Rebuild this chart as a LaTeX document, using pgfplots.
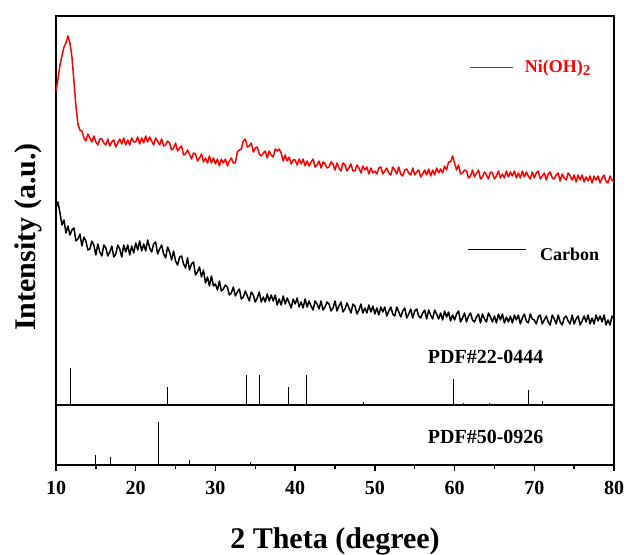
\documentclass[border=0pt]{standalone}
\usepackage{fontspec}
\setmainfont{Liberation Serif}
\usepackage{pgfplots}
\pgfplotsset{compat=1.18}
\begin{document}
\begin{tikzpicture}
\useasboundingbox (-56pt,-89pt) rectangle (572pt,465pt);
% ---------- bottom panel: PDF#50-0926 ----------
\begin{axis}[name=bot, at={(0,0)}, anchor=south west,
  scale only axis, width=558pt, height=60pt,
  xmin=10, xmax=80, ymin=0, ymax=60,
  ytick=\empty, xtick={10,20,...,80}, minor x tick num=1,
  tick align=outside, xtick pos=bottom,
  major tick length=6pt, minor tick length=4pt,
  every tick/.style={black, line width=1.3pt},
  axis line style={line width=2pt},
  /pgf/number format/assume math mode=true,
  tick label style={font=\fontsize{20}{20}\selectfont\bfseries},
  xticklabel style={yshift=-7pt},
  xlabel={2 Theta (degree)},
  xlabel style={at={(axis description cs:0.5,0)}, anchor=base, yshift=-83pt,
    font=\fontsize{30}{30}\selectfont\bfseries},
  clip=false]
\addplot[ycomb, black, line width=0.7pt, no marks] coordinates {
(14.98,9.7) (16.82,7.8) (22.9,43) (26.7,4.9) (29.5,1.0) (34.4,2.9)};
\node[font=\fontsize{20}{20}\selectfont\bfseries, anchor=center] at (axis cs:63.9,28) {PDF\#50-0926};
\end{axis}
% ---------- top panel ----------
\begin{axis}[name=main, at={(0,60pt)}, anchor=south west,
  scale only axis, width=558pt, height=389pt,
  xmin=10, xmax=80, ymin=0, ymax=389,
  xtick=\empty, ytick=\empty,
  axis line style={line width=2pt},
  ylabel={Intensity (a.u.)},
  ylabel style={at={(axis description cs:-0.0502,0.432)}, anchor=center,
    font=\fontsize{30}{30}\selectfont\bfseries},
  clip=false]
\addplot[red, line width=1.5pt, no marks, line join=round] table {
x y
10.00 314
10.25 326
10.50 340
10.75 349
11.00 358
11.25 362
11.50 369
11.75 362
12.00 348
12.25 324
12.50 299
12.75 281
13.00 275
13.25 274
13.50 267
13.75 264
14.00 271
14.25 267
14.50 263
14.75 269
15.00 263
15.25 260
15.50 266
15.75 266
16.00 262
16.25 260
16.50 266
16.75 259
17.00 263
17.25 265
17.50 258
17.75 262
18.00 266
18.25 261
18.50 267
18.75 260
19.00 265
19.25 260
19.50 267
19.75 263
20.00 263
20.25 268
20.50 261
20.75 267
21.00 262
21.25 269
21.50 263
21.75 268
22.00 264
22.25 260
22.50 267
22.75 264
23.00 260
23.25 266
23.50 259
23.75 260
24.00 264
24.25 262
24.50 255
24.75 257
25.00 262
25.25 254
25.50 257
25.75 259
26.00 250
26.25 251
26.50 255
26.75 251
27.00 246
27.25 252
27.50 251
27.75 244
28.00 247
28.25 251
28.50 243
28.75 247
29.00 242
29.25 249
29.50 242
29.75 247
30.00 241
30.25 246
30.50 239
30.75 246
31.00 242
31.25 246
31.50 239
31.75 244
32.00 247
32.25 242
32.50 242
32.75 253
33.00 255
33.25 256
33.50 264
33.75 266
34.00 258
34.25 259
34.50 262
34.75 253
35.00 257
35.25 258
35.50 251
35.75 249
36.00 252
36.25 254
36.50 247
36.75 254
37.00 250
37.25 248
37.50 256
37.75 254
38.00 256
38.25 252
38.50 244
38.75 250
39.00 244
39.25 248
39.50 241
39.75 245
40.00 245
40.25 240
40.50 246
40.75 241
41.00 246
41.25 239
41.50 244
41.75 239
42.00 243
42.25 246
42.50 238
42.75 240
43.00 244
43.25 237
43.50 243
43.75 241
44.00 237
44.25 238
44.50 243
44.75 241
45.00 235
45.25 242
45.50 237
45.75 234
46.00 242
46.25 240
46.50 234
46.75 237
47.00 241
47.25 234
47.50 234
47.75 240
48.00 237
48.25 232
48.50 239
48.75 235
49.00 238
49.25 231
49.50 237
49.75 232
50.00 234
50.25 231
50.50 237
50.75 238
51.00 231
51.25 234
51.50 237
51.75 232
52.00 230
52.25 238
52.50 235
52.75 231
53.00 238
53.25 231
53.50 229
53.75 235
54.00 236
54.25 232
54.50 230
54.75 237
55.00 230
55.25 233
55.50 235
55.75 228
56.00 231
56.25 235
56.50 230
56.75 236
57.00 229
57.25 235
57.50 230
57.75 237
58.00 232
58.25 236
58.50 232
58.75 239
59.00 235
59.25 243
59.50 243
59.75 249
60.00 242
60.25 235
60.50 240
60.75 231
61.00 232
61.25 235
61.50 234
61.75 227
62.00 229
62.25 235
62.50 228
62.75 232
63.00 235
63.25 226
63.50 228
63.75 233
64.00 230
64.25 226
64.50 233
64.75 232
65.00 226
65.25 229
65.50 234
65.75 227
66.00 231
66.25 227
66.50 234
66.75 228
67.00 233
67.25 229
67.50 234
67.75 227
68.00 232
68.25 227
68.50 234
68.75 228
69.00 233
69.25 229
69.50 226
69.75 233
70.00 227
70.25 232
70.50 234
70.75 226
71.00 229
71.25 232
71.50 225
71.75 231
72.00 233
72.25 227
72.50 226
72.75 230
73.00 232
73.25 224
73.50 231
73.75 227
74.00 225
74.25 232
74.50 229
74.75 225
75.00 230
75.25 223
75.50 230
75.75 225
76.00 230
76.25 223
76.50 228
76.75 224
77.00 229
77.25 222
77.50 229
77.75 225
78.00 229
78.25 222
78.50 227
78.75 230
79.00 224
79.25 222
79.50 229
79.75 225
80.00 223
};
\addplot[black, line width=1.5pt, no marks, line join=round] table {
x y
10.00 197
10.25 203
10.50 192
10.75 180
11.00 185
11.25 172
11.50 179
11.75 170
12.00 175
12.25 177
12.50 164
12.75 166
13.00 171
13.25 159
13.50 168
13.75 164
14.00 155
14.25 156
14.50 164
14.75 160
15.00 150
15.25 161
15.50 153
15.75 149
16.00 160
16.25 157
16.50 149
16.75 153
17.00 159
17.25 148
17.50 151
17.75 160
18.00 156
18.25 148
18.50 160
18.75 153
19.00 160
19.25 150
19.50 159
19.75 152
20.00 162
20.25 155
20.50 164
20.75 154
21.00 161
21.25 154
21.50 165
21.75 157
22.00 153
22.25 161
22.50 163
22.75 151
23.00 156
23.25 160
23.50 151
23.75 147
24.00 158
24.25 153
24.50 145
24.75 154
25.00 144
25.25 140
25.50 148
25.75 149
26.00 141
26.25 137
26.50 147
26.75 135
27.00 141
27.25 143
27.50 130
27.75 133
28.00 138
28.25 128
28.50 135
28.75 122
29.00 128
29.25 119
29.50 129
29.75 119
30.00 121
30.25 115
30.50 124
30.75 114
31.00 116
31.25 120
31.50 118
31.75 110
32.00 112
32.25 118
32.50 109
32.75 113
33.00 116
33.25 106
33.50 108
33.75 114
34.00 109
34.25 104
34.50 113
34.75 110
35.00 103
35.25 107
35.50 113
35.75 103
36.00 108
36.25 103
36.50 111
36.75 104
37.00 110
37.25 104
37.50 110
37.75 100
38.00 106
38.25 100
38.50 109
38.75 101
39.00 107
39.25 102
39.50 97
39.75 106
40.00 101
40.25 107
40.50 98
40.75 103
41.00 97
41.25 106
41.50 98
41.75 104
42.00 99
42.25 95
42.50 104
42.75 101
43.00 96
43.25 104
43.50 95
43.75 98
44.00 103
44.25 101
44.50 94
44.75 97
45.00 104
45.25 94
45.50 99
45.75 103
46.00 93
46.25 96
46.50 102
46.75 97
47.00 92
47.25 101
47.50 99
47.75 91
48.00 95
48.25 101
48.50 92
48.75 97
49.00 92
49.25 100
49.50 93
49.75 99
50.00 91
50.25 97
50.50 90
50.75 98
51.00 93
51.25 98
51.50 89
51.75 94
52.00 98
52.25 91
52.50 89
52.75 98
53.00 93
53.25 88
53.50 94
53.75 97
54.00 87
54.25 91
54.50 96
54.75 87
55.00 94
55.25 96
55.50 89
55.75 87
56.00 92
56.25 95
56.50 86
56.75 95
57.00 90
57.25 86
57.50 95
57.75 91
58.00 86
58.25 92
58.50 85
58.75 94
59.00 88
59.25 93
59.50 84
59.75 90
60.00 85
60.25 91
60.50 94
60.75 83
61.00 87
61.25 92
61.50 83
61.75 89
62.00 92
62.25 85
62.50 83
62.75 88
63.00 91
63.25 82
63.50 91
63.75 86
64.00 83
64.25 92
64.50 88
64.75 83
65.00 89
65.25 82
65.50 91
65.75 85
66.00 91
66.25 82
66.50 88
66.75 83
67.00 89
67.25 82
67.50 90
67.75 85
68.00 90
68.25 81
68.50 87
68.75 91
69.00 84
69.25 82
69.50 91
69.75 86
70.00 85
70.25 81
70.50 88
70.75 90
71.00 81
71.25 85
71.50 89
71.75 83
72.00 80
72.25 90
72.50 86
72.75 81
73.00 90
73.25 83
73.50 80
73.75 87
74.00 89
74.25 84
74.50 81
74.75 90
75.00 81
75.25 86
75.50 89
75.75 80
76.00 84
76.25 89
76.50 83
76.75 90
77.00 81
77.25 87
77.50 81
77.75 90
78.00 84
78.25 89
78.50 83
78.75 90
79.00 80
79.25 85
79.50 80
79.75 89
80.00 86
};
% PDF#22-0444 reference sticks
\addplot[ycomb, black, line width=0.7pt, no marks] coordinates {
(11.84,37) (24.0,18.5) (33.9,30) (35.5,30) (39.2,18.5) (41.4,30)
(48.6,3.2) (59.85,26) (61.1,1.6) (64.4,1.6) (69.3,14.6) (71.05,3.6)};
\node[font=\fontsize{20}{20}\selectfont\bfseries, anchor=center] at (axis cs:63.9,48) {PDF\#22-0444};
% legend-like labels
\draw[red, line width=0.8pt] (axis cs:61.9,338) -- (axis cs:67.3,338);
\node[red, anchor=west, inner sep=0pt, font=\fontsize{18}{18}\selectfont\bfseries] at (axis cs:68.8,337) {Ni(OH)\raisebox{-0.35ex}{\fontsize{15}{15}\selectfont 2}};
\draw[black, line width=0.8pt] (axis cs:61.7,156) -- (axis cs:69.0,156);
\node[black, anchor=west, inner sep=0pt, font=\fontsize{18}{18}\selectfont\bfseries] at (axis cs:70.7,151) {Carbon};
\end{axis}
\end{tikzpicture}
\end{document}
